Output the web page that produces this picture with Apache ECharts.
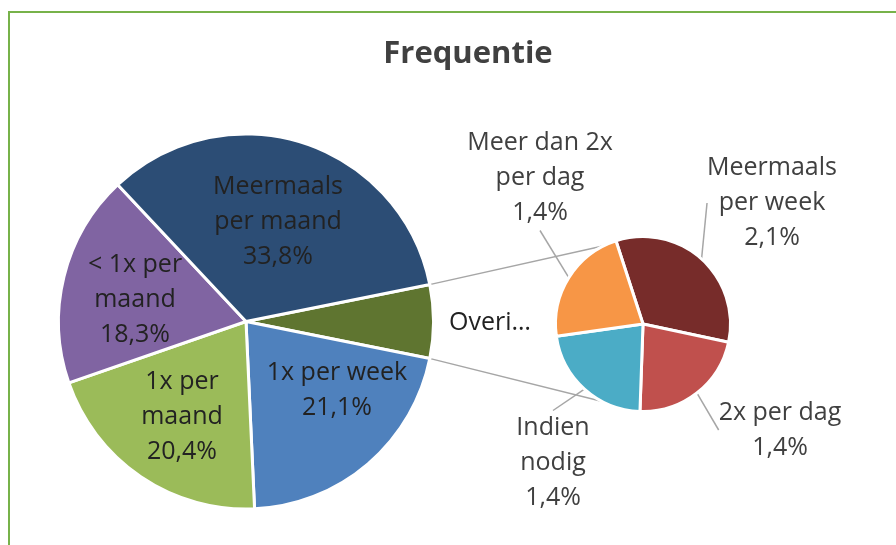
<!DOCTYPE html>
<html>
<head>
<meta charset="utf-8">
<script src="https://cdn.jsdelivr.net/npm/echarts@6/dist/echarts.min.js"></script>
<style>
html, body { margin: 0; padding: 0; background: #fff; }
#main { width: 896px; height: 545px; }
</style>
</head>
<body>
<div id="main"></div>
<script>
// data -- main pie (clockwise after the "Overig" wedge) and the detail pie
var otherName = 'Overig';
var otherLabel = 'Overi\u2026';
var mainNames = ['1x per week', '1x per maand', '< 1x per maand', 'Meermaals per maand'];
var mainLabels = ['1x per week', '1x per\nmaand', '< 1x per\nmaand', 'Meermaals\nper maand'];
var mainValues = [21.1, 20.4, 18.3, 33.8];

var subNames = ['Meermaals per week', '2x per dag', 'Indien nodig', 'Meer dan 2x per dag'];
var subLabels = ['Meermaals\nper week', '2x per dag', 'Indien\nnodig', 'Meer dan 2x\nper dag'];
var subValues = [2.1, 1.4, 1.4, 1.4];

// styles
var mainColors = ['#5f7530', '#4f81bd', '#9bbb59', '#8064a2', '#2c4d75'];
var subColors = ['#772c2a', '#c0504d', '#4bacc6', '#f79646'];
var MAIN = { cx: 246, cy: 321.5, r: 186 };
var SUB = { cx: 643, cy: 324, r: 86, start: 108 };
var mainLabelOffset = [[244, 1.5], [91, 68.5], [-64, 95.5], [-111, -21.5], [32, -99.5]];
var subLabelOffset = [[129, -121], [137, 106], [-90, 139], [-103, -146]];
var FONT = 'Open Sans';

function pct(v) { return v.toFixed(1).replace('.', ',') + '%'; }

var otherValue = subValues.reduce(function (a, b) { return a + b; }, 0);
var total = otherValue + mainValues.reduce(function (a, b) { return a + b; }, 0);
var halfOther = otherValue / total * 180;   // degrees

var mainData = [{ name: otherName, value: otherValue }].concat(mainNames.map(function (n, i) {
    return { name: n, value: mainValues[i] };
}));
var subData = subNames.map(function (n, i) { return { name: n, value: subValues[i] }; });

// connector lines from the "Overig" wedge to the detail pie
function pt(c, r, deg) {
    var a = deg * Math.PI / 180;
    return [c.cx + r * Math.cos(a), c.cy - r * Math.sin(a)];
}
var a1 = pt(MAIN, MAIN.r, halfOther), a2 = pt(MAIN, MAIN.r, -halfOther);
var b1 = pt(SUB, SUB.r, 112), b2 = pt(SUB, SUB.r, -113);

var option = {
    backgroundColor: '#fff',
    animation: false,
    graphic: [
        { type: 'rect', z: 0, shape: { x: 9, y: 12, width: 1000, height: 1000 },
          style: { fill: 'none', stroke: '#77b24a', lineWidth: 2 } },
        { type: 'text', z: 10, x: 468, y: 54,
          style: { text: 'Frequentie', align: 'center', verticalAlign: 'middle',
                   font: 'bold 31px "Open Sans"', fill: '#404040' } },
        { type: 'line', z: 0, shape: { x1: a1[0], y1: a1[1], x2: b1[0], y2: b1[1] },
          style: { stroke: '#a6a6a6', lineWidth: 1.5 } },
        { type: 'line', z: 0, shape: { x1: a2[0], y1: a2[1], x2: b2[0], y2: b2[1] },
          style: { stroke: '#a6a6a6', lineWidth: 1.5 } }
    ],
    series: [
        {
            name: 'main',
            type: 'pie',
            center: [MAIN.cx, MAIN.cy],
            radius: MAIN.r + 1.5,
            startAngle: halfOther,
            clockwise: true,
            avoidLabelOverlap: false,
            data: mainData,
            itemStyle: {
                color: function (p) { return mainColors[p.dataIndex]; },
                borderColor: '#fff', borderWidth: 3
            },
            label: {
                show: true, position: 'inside',
                fontFamily: FONT, fontSize: 25, lineHeight: 35, color: '#222',
                formatter: function (p) {
                    if (p.dataIndex === 0) return otherLabel;
                    return mainLabels[p.dataIndex - 1] + '\n' + pct(p.value);
                }
            },
            labelLine: { show: false },
            labelLayout: function (p) {
                var o = mainLabelOffset[p.dataIndex];
                return { x: MAIN.cx + o[0], y: MAIN.cy + o[1], align: 'center', verticalAlign: 'middle' };
            },
            emphasis: { disabled: true }
        },
        {
            name: 'detail',
            type: 'pie',
            center: [SUB.cx, SUB.cy],
            radius: SUB.r + 1.5,
            startAngle: SUB.start,
            clockwise: true,
            avoidLabelOverlap: false,
            data: subData,
            itemStyle: {
                color: function (p) { return subColors[p.dataIndex]; },
                borderColor: '#fff', borderWidth: 3
            },
            label: {
                show: true, position: 'outside',
                fontFamily: FONT, fontSize: 25, lineHeight: 35, color: '#404040',
                formatter: function (p) { return subLabels[p.dataIndex] + '\n' + pct(p.value); }
            },
            labelLine: { show: true, length: 10, length2: 0, lineStyle: { color: '#a6a6a6', width: 1.5 } },
            labelLayout: function (p) {
                var o = subLabelOffset[p.dataIndex];
                return { x: SUB.cx + o[0], y: SUB.cy + o[1], align: 'center', verticalAlign: 'middle' };
            },
            emphasis: { disabled: true }
        }
    ]
};

var myChart = echarts.init(document.getElementById('main'));
myChart.setOption(option);
</script>
</body>
</html>
